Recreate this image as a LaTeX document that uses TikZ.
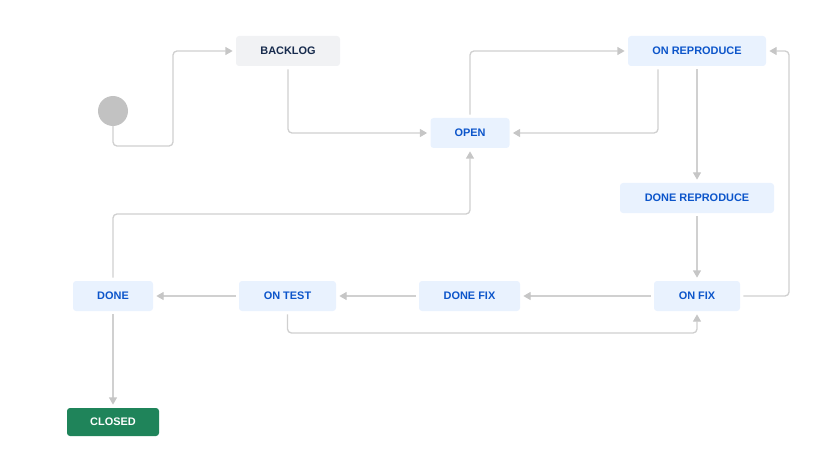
\documentclass[tikz,border=0pt]{standalone}
\usepackage{fontspec}
\setmainfont{Liberation Sans}
\usetikzlibrary{arrows.meta}

\definecolor{stepfill}{HTML}{E9F2FE}
\definecolor{steptext}{HTML}{0C55CA}
\definecolor{backfill}{HTML}{F1F2F4}
\definecolor{backtext}{HTML}{172B4D}
\definecolor{closedfill}{HTML}{1F845A}
\definecolor{linkgray}{HTML}{D0D0D0}
\definecolor{tipgray}{HTML}{C6C6C6}

\tikzset{
  state/.style={rectangle, rounded corners=2.25pt, fill=stepfill, text=steptext,
    minimum height=22.5pt, inner sep=0pt, outer sep=2.5pt,
    font=\fontsize{8.2}{9}\selectfont\bfseries},
  backstate/.style={state, fill=backfill, text=backtext},
  closedstate/.style={state, fill=closedfill, text=white, minimum height=21pt},
  link/.style={draw=linkgray, line width=1pt, rounded corners=3pt,
    -{Triangle[width=6pt,length=5.5pt,color=tipgray]}},
  plain link/.style={draw=linkgray, line width=1pt, rounded corners=3pt}
}

\begin{document}
\begin{tikzpicture}[x=0.75pt, y=-0.75pt]

\useasboundingbox (0,0) rectangle (840,467);

% states
\node[circle, fill=black!24, minimum size=22.5pt, inner sep=0pt, outer sep=0pt] (start) at (113,111) {};
\node[backstate, minimum width=78pt] (backlog) at (288,51) {BACKLOG};
\node[state, minimum width=59.25pt] (open) at (470,133) {OPEN};
\node[state, minimum width=103.5pt] (onrep) at (697,51) {ON REPRODUCE};
\node[state, minimum width=115.5pt] (donerep) at (697,198) {DONE REPRODUCE};
\node[state, minimum width=64.5pt] (onfix) at (697,296) {ON FIX};
\node[state, minimum width=75.75pt] (donefix) at (469.5,296) {DONE FIX};
\node[state, minimum width=72.75pt] (ontest) at (287.5,296) {ON TEST};
\node[state, minimum width=60pt] (done) at (113,296) {DONE};
\node[closedstate, minimum width=69pt] (closed) at (113,422) {CLOSED};

% bend points
\coordinate (k1) at (173,146);
\coordinate (k4) at (658,100);
\coordinate (k7) at (789,150);
\coordinate (k11) at (500,333);
\coordinate (k12) at (300,214);

% transitions
\draw[link] (start.south) |- (k1) |- (backlog.west);
\draw[link] (backlog.south) |- (open.west);
\draw[link] (open.north) |- (onrep.west);
\draw[link] (onrep.south -| k4) |- (open.east);
\draw[link] (onrep.south) -- (donerep.north);
\draw[link] (donerep.south) -- (onfix.north);
\draw[link] (onfix.east) -| (k7) |- (onrep.east);
\draw[link] (onfix.west) -- (donefix.east);
\draw[link] (donefix.west) -- (ontest.east);
\draw[link] (ontest.west) -- (done.east);
\draw[link] (ontest.south) |- (k11) -| (onfix.south);
\draw[link] (done.north) |- (k12) -| (open.south);
\draw[link] (done.south) -- (closed.north);

\end{tikzpicture}
\end{document}
